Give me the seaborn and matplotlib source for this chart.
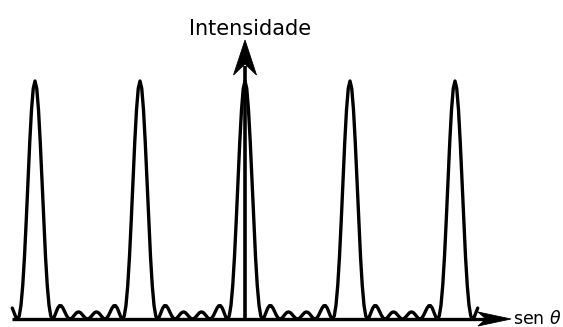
import numpy as np
import pandas as pd
import matplotlib
matplotlib.use("Agg")
import matplotlib.pyplot as plt
from matplotlib.patches import Polygon
import seaborn as sns

# Principal maxima positions (sen theta, in units of lambda/d)
peak_orders = [-2, -1, 0, 1, 2]
# Half-period intensity profile (offset step = 1/60 period)
profile_step = 1 / 60
profile_half = [1.0, 0.9686, 0.8784, 0.7429, 0.5812, 0.4147, 0.2631, 0.1416,
                0.0580, 0.0129, 0.0, 0.0089, 0.0278, 0.0459, 0.0561, 0.0556,
                0.0455, 0.0301, 0.0147, 0.0038, 0.0, 0.0033, 0.0115, 0.0209,
                0.0278, 0.0298, 0.0263, 0.0186, 0.0097, 0.0027, 0.0]
curve_range = (-2.22, 2.22)

x_label = "sen $\\theta$"
y_label = "Intensidade"

# Build the full curve from the measured profile
half = np.array(profile_half)
period = np.concatenate([half[:0:-1], half[:-1]])          # offsets -0.5 .. <0.5
offsets = (np.arange(len(period)) - (len(half) - 1)) * profile_step
xs, ys = [], []
for m in peak_orders:
    xs.extend(m + offsets)
    ys.extend(period)
xs.append(peak_orders[-1] + 0.5)
ys.append(half[-1])
df = pd.DataFrame({"sen": xs, "I": ys})
df = df[(df["sen"] >= curve_range[0] - 1e-9) & (df["sen"] <= curve_range[1] + 1e-9)]

sns.set_theme(style="white")
plt.rcParams["font.family"] = ["DejaVu Sans"]

W, H = 563, 327
fig = plt.figure(figsize=(W / 100, H / 100), dpi=100)
ax = fig.add_axes([0, 0, 1, 1])
ax.axis("off")

px_per_unit_x = 105.0
x0_px = 245.0
px_per_unit_y = 238.0
y0_px = 8.0
ax.set_xlim(-x0_px / px_per_unit_x, (W - x0_px) / px_per_unit_x)
ax.set_ylim(-y0_px / px_per_unit_y, (H - y0_px) / px_per_unit_y)

sns.lineplot(data=df, x="sen", y="I", ax=ax, color="black", linewidth=2.4,
             estimator=None, sort=False, zorder=3)

def ux(px):
    return (px - x0_px) / px_per_unit_x

def uy(px_from_top):
    return ((H - px_from_top) - y0_px) / px_per_unit_y

# horizontal axis: shaft + swept arrow head
ax.plot([ux(12), ux(490)], [0, 0], color="black", linewidth=2.4,
        solid_capstyle="butt", zorder=4)
ax.add_patch(Polygon([(ux(511), uy(319)), (ux(478), uy(312)),
                      (ux(486), uy(319)), (ux(478), uy(326))],
                     closed=True, facecolor="black", edgecolor="black",
                     linewidth=0.6, zorder=4))
# vertical axis: shaft + swept arrow head
ax.plot([0, 0], [0, uy(66)], color="black", linewidth=2.6,
        solid_capstyle="butt", zorder=4)
ax.add_patch(Polygon([(ux(245), uy(40)), (ux(256.5), uy(75)),
                      (ux(245), uy(64)), (ux(233.5), uy(75))],
                     closed=True, facecolor="black", edgecolor="black",
                     linewidth=0.6, zorder=4))

ax.text(ux(250), uy(35), y_label, ha="center", va="baseline",
        fontsize=15, color="black")
ax.text(ux(513), uy(324), x_label, ha="left", va="baseline",
        fontsize=12.5, color="black")

fig.savefig("out.png", dpi=100, facecolor="white")
